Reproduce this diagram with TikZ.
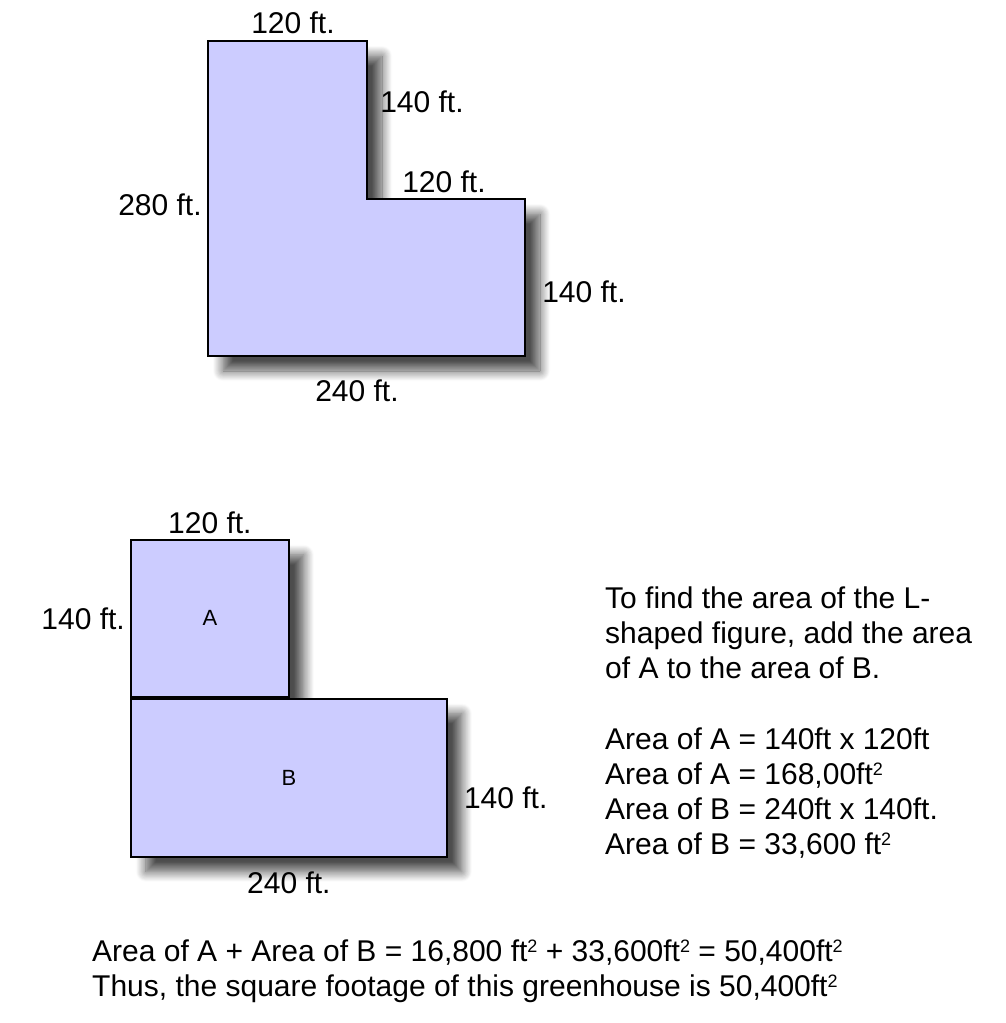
\documentclass[tikz,border=0pt]{standalone}
\usepackage{fontspec}
\setmainfont{Liberation Sans}
\usetikzlibrary{positioning,shadows.blur}
\definecolor{lavanda}{HTML}{CCCCFF}
\tikzstyle{parcela} = [draw=black, line width=1.8pt, fill=lavanda, blur shadow={shadow xshift=15pt, shadow yshift=-15pt, shadow blur radius=10pt, shadow blur steps=12, shadow opacity=70}]
\tikzstyle{medida} = [font=\fontsize{30}{35}\selectfont, inner sep=0pt]
\tikzstyle{texto} = [font=\fontsize{30}{35}\selectfont, align=left, anchor=base west, inner sep=0pt]
\tikzstyle{letra} = [font=\fontsize{22}{26}\selectfont]
\newcommand{\cuadrado}{\raisebox{0.55ex}{\fontsize{18}{18}\selectfont 2}}

\begin{document}
\begin{tikzpicture}[x=1pt,y=-1pt]
\useasboundingbox (0,0) rectangle (1006,1023);

\coordinate (Lnw) at (208,41);
\coordinate (Lne) at (367,41);
\coordinate (Lin) at (367,199);
\coordinate (Lme) at (525,199);
\coordinate (Lse) at (525,356);
\coordinate (Lsw) at (208,356);
\path[parcela] (Lnw) -- (Lne) -- (Lin) -- (Lme) -- (Lse) -- (Lsw) -- cycle;
\node[medida] (arriba) at (293,23) {120 ft.};
\node[medida] (interior1) at (422,102) {140 ft.};
\node[medida] (interior2) at (444,182) {120 ft.};
\node[medida] (izquierda) at (160,205) {280 ft.};
\node[medida] (derecha) at (584,292) {140 ft.};
\node[medida] (abajo) at (357,391) {240 ft.};

\node[parcela, rectangle, minimum width=158pt, minimum height=157pt, anchor=north west] (A) at (130,539) {};
\node[parcela, rectangle, minimum width=316pt, minimum height=158pt, anchor=north west] (B) at (A.south west) {};
\node[letra] at (A.center) {A};
\node[letra] at (B.center) {B};
\node[medida, above=5pt] (ladoA1) at (A.north) {120 ft.};
\node[medida, left=5pt] (ladoA2) at (A.west) {140 ft.};
\node[medida, right=16pt] (ladoB1) at ([yshift=-20pt]B.east) {140 ft.};
\node[medida, below=14pt] (ladoB2) at (B.south) {240 ft.};

\node[texto] (explicacion) at (605,678) {To find the area of the L-\\shaped figure, add the area\\of A to the area of B.};
\node[texto] (calculos) at (605,854) {Area of A = 140ft x 120ft\\Area of A = 168,00ft\cuadrado\\Area of B = 240ft x 140ft.\\Area of B = 33,600 ft\cuadrado};
\node[texto] (total) at (92,996) {Area of A + Area of B = 16,800 ft\cuadrado{} + 33,600ft\cuadrado{} = 50,400ft\cuadrado\\Thus, the square footage of this greenhouse is 50,400ft\cuadrado};
\end{tikzpicture}
\end{document}
